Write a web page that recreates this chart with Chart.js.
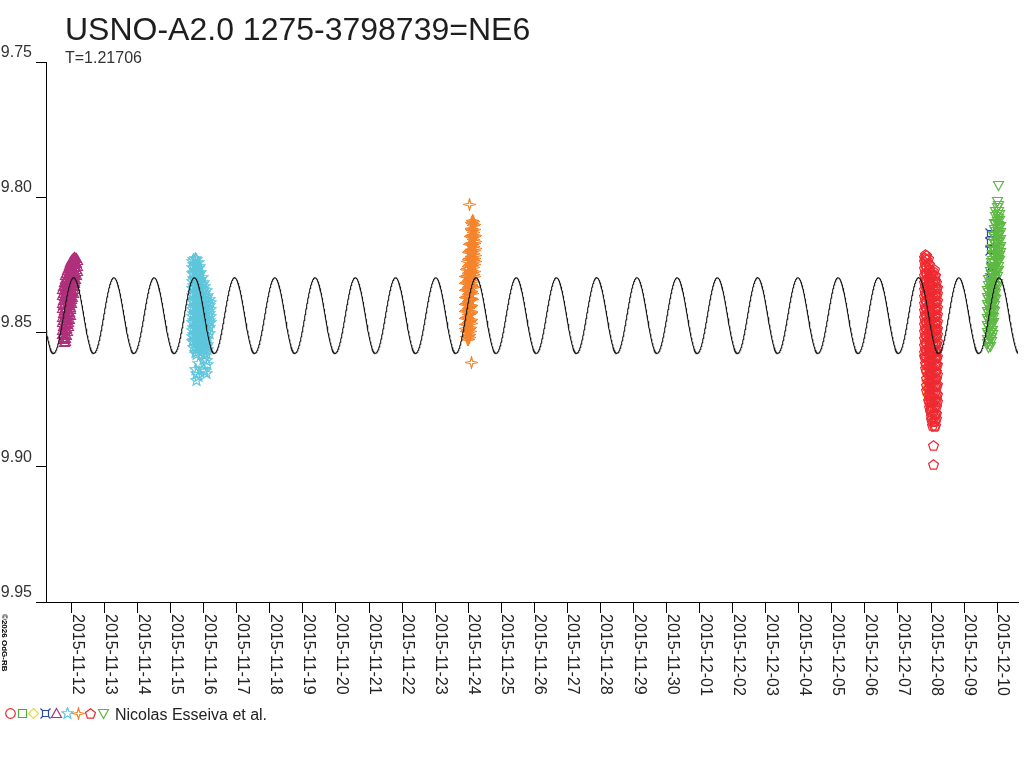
<!DOCTYPE html>
<html>
<head>
<meta charset="utf-8">
<title>USNO-A2.0 1275-3798739=NE6</title>
<script src="https://cdn.jsdelivr.net/npm/chart.js@4.4.1/dist/chart.umd.min.js"></script>
<style>
  html, body { margin: 0; padding: 0; background: #fff; }
  canvas { display: block; }
</style>
</head>
<body>
<canvas id="lc" width="1024" height="768"></canvas>
<script>
"use strict";

// x = days since 2015-11-12 00:00, y = magnitude
const dateLabels = [
  "2015-11-12", "2015-11-13", "2015-11-14", "2015-11-15", "2015-11-16",
  "2015-11-17", "2015-11-18", "2015-11-19", "2015-11-20", "2015-11-21",
  "2015-11-22", "2015-11-23", "2015-11-24", "2015-11-25", "2015-11-26",
  "2015-11-27", "2015-11-28", "2015-11-29", "2015-11-30", "2015-12-01",
  "2015-12-02", "2015-12-03", "2015-12-04", "2015-12-05", "2015-12-06",
  "2015-12-07", "2015-12-08", "2015-12-09", "2015-12-10"
];
const magTicks = [9.75, 9.80, 9.85, 9.90, 9.95];

// light curve model (T in days)
const period = 1.21706;
const epochMax = 0.065;
const meanMag = 9.8439;
const amplitude = 0.0140;

// observations, grouped as [day, [mags...]]
const magentaObs = [
  [-0.27, [9.8344, 9.8366, 9.8395, 9.8414, 9.8446, 9.8463, 9.8494, 9.8509]],
  [-0.245, [9.8331, 9.8357, 9.8384, 9.8402, 9.8433, 9.8458, 9.8479, 9.8506, 9.8527]],
  [-0.22, [9.8316, 9.8347, 9.8368, 9.8397, 9.8419, 9.8447, 9.8471, 9.8493, 9.8522, 9.8538]],
  [-0.195, [9.8304, 9.8329, 9.8358, 9.8381, 9.8409, 9.8436, 9.8457, 9.8488, 9.8511, 9.8536]],
  [-0.17, [9.8292, 9.8318, 9.8339, 9.8367, 9.8396, 9.8414, 9.8446, 9.8469, 9.8492, 9.8524]],
  [-0.145, [9.8285, 9.8306, 9.8334, 9.8361, 9.8383, 9.8411, 9.8437, 9.8458, 9.8487, 9.8513]],
  [-0.12, [9.8273, 9.8299, 9.8322, 9.8348, 9.8371, 9.8398, 9.8424, 9.8449, 9.8472, 9.8497]],
  [-0.095, [9.8266, 9.8288, 9.8313, 9.8341, 9.8364, 9.8389, 9.8417, 9.8436, 9.8466, 9.8481]],
  [-0.07, [9.8254, 9.8278, 9.8304, 9.8327, 9.8356, 9.8376, 9.8403, 9.8429, 9.8452]],
  [-0.045, [9.8247, 9.8271, 9.8296, 9.8318, 9.8346, 9.8368, 9.8394, 9.8417, 9.8438]],
  [-0.02, [9.8241, 9.8262, 9.8288, 9.8313, 9.8337, 9.8363, 9.8386, 9.8409]],
  [0.005, [9.8236, 9.8256, 9.8281, 9.8304, 9.8331, 9.8352, 9.8379, 9.8396]],
  [0.03, [9.8232, 9.8251, 9.8276, 9.8302, 9.8327, 9.8349, 9.8371]],
  [0.055, [9.8229, 9.8243, 9.8268, 9.8294, 9.8316, 9.8341, 9.8357]],
  [0.08, [9.8226, 9.8237, 9.8261, 9.8288, 9.8312, 9.8333]],
  [0.105, [9.8224, 9.8239, 9.8256, 9.8281, 9.8304, 9.8321]],
  [0.13, [9.8226, 9.8242, 9.8258, 9.8284, 9.8305]],
  [0.155, [9.8229, 9.8248, 9.8268, 9.8291]],
  [0.18, [9.8234, 9.8256, 9.8277]]
];
const cyanObs = [
  [3.66, [9.8238, 9.8262, 9.8285, 9.8313, 9.8338, 9.8366, 9.8387, 9.8416, 9.8442, 9.8464, 9.8493, 9.8517, 9.8534]],
  [3.70, [9.8231, 9.8251, 9.8279, 9.8303, 9.8329, 9.8356, 9.8381, 9.8404, 9.8433, 9.8457, 9.8482, 9.8511, 9.8533, 9.8556]],
  [3.74, [9.8228, 9.8248, 9.8274, 9.8301, 9.8324, 9.8352, 9.8377, 9.8403, 9.8428, 9.8451, 9.8479, 9.8506, 9.8528, 9.8553, 9.8576, 9.8639]],
  [3.78, [9.8232, 9.8257, 9.8282, 9.8306, 9.8334, 9.8358, 9.8386, 9.8411, 9.8434, 9.8462, 9.8487, 9.8513, 9.8538, 9.8564, 9.8584, 9.8652, 9.8678]],
  [3.83, [9.8243, 9.8264, 9.8292, 9.8318, 9.8343, 9.8367, 9.8396, 9.8419, 9.8446, 9.8471, 9.8497, 9.8522, 9.8549, 9.8572, 9.8615, 9.8664]],
  [3.87, [9.8259, 9.8283, 9.8309, 9.8336, 9.8359, 9.8387, 9.8411, 9.8438, 9.8463, 9.8489, 9.8514, 9.8541, 9.8562]],
  [3.91, [9.8281, 9.8306, 9.8331, 9.8357, 9.8382, 9.8408, 9.8433, 9.8459, 9.8486, 9.8509, 9.8537, 9.8556]],
  [3.95, [9.8299, 9.8324, 9.8349, 9.8376, 9.8401, 9.8426, 9.8452, 9.8478, 9.8504, 9.8529, 9.8551]],
  [3.99, [9.8316, 9.8342, 9.8367, 9.8393, 9.8419, 9.8446, 9.8471, 9.8496, 9.8522, 9.8548, 9.8568, 9.8603, 9.8638]],
  [4.03, [9.8331, 9.8358, 9.8384, 9.8409, 9.8434, 9.8461, 9.8487, 9.8512, 9.8538, 9.8564, 9.8588, 9.8646]],
  [4.08, [9.8348, 9.8372, 9.8398, 9.8426, 9.8451, 9.8476, 9.8503, 9.8528, 9.8553, 9.8578, 9.8606, 9.8655]],
  [4.12, [9.8364, 9.8389, 9.8414, 9.8441, 9.8467, 9.8492, 9.8518, 9.8546, 9.8566, 9.8619]],
  [4.16, [9.8378, 9.8403, 9.8431, 9.8456, 9.8482, 9.8505]],
  [4.20, [9.8391, 9.8418, 9.8443, 9.8466]]
];
const orangeObs = [
  [11.91, [9.8294, 9.8321, 9.8345, 9.8372, 9.8398, 9.8423, 9.8449, 9.8474, 9.8488]],
  [11.94, [9.8267, 9.8293, 9.8318, 9.8344, 9.8371, 9.8396, 9.8422, 9.8447, 9.8473, 9.8499, 9.8518]],
  [11.97, [9.8238, 9.8264, 9.8291, 9.8316, 9.8342, 9.8367, 9.8394, 9.8419, 9.8445, 9.8471, 9.8496, 9.8517, 9.8528]],
  [12.00, [9.8204, 9.8231, 9.8257, 9.8283, 9.8308, 9.8334, 9.8361, 9.8386, 9.8412, 9.8437, 9.8463, 9.8489, 9.8514, 9.8526]],
  [12.03, [9.8177, 9.8203, 9.8228, 9.8254, 9.8281, 9.8306, 9.8332, 9.8357, 9.8383, 9.8409, 9.8434, 9.8461, 9.8486, 9.8511, 9.8522]],
  [12.06, [9.8148, 9.8173, 9.8199, 9.8226, 9.8251, 9.8277, 9.8302, 9.8328, 9.8354, 9.8379, 9.8406, 9.8431, 9.8457, 9.8482, 9.8498]],
  [12.09, [9.8118, 9.8144, 9.8171, 9.8196, 9.8222, 9.8247, 9.8273, 9.8299, 9.8324, 9.8351, 9.8376, 9.8402, 9.8428, 9.8453, 9.8468]],
  [12.11, [9.8096, 9.8119, 9.8144, 9.8171, 9.8196, 9.8222, 9.8248, 9.8273, 9.8299, 9.8326, 9.8351, 9.8377, 9.8402, 9.8424]],
  [12.14, [9.8086, 9.8099, 9.8124, 9.8151, 9.8177, 9.8202, 9.8228, 9.8254, 9.8279, 9.8306, 9.8331, 9.8356, 9.8381]],
  [12.17, [9.8089, 9.8107, 9.8133, 9.8159, 9.8184, 9.8211, 9.8236, 9.8262, 9.8288, 9.8313, 9.8336]],
  [12.20, [9.8101, 9.8122, 9.8148, 9.8174, 9.8199, 9.8226, 9.8251, 9.8277, 9.8296]],
  [12.22, [9.8141, 9.8164, 9.8189, 9.8216, 9.8238]],
  [12.04, [9.8026]],
  [12.10, [9.8612]]
];
const redObs = [
  [25.80, [9.8224, 9.8239, 9.8266, 9.8291, 9.8318, 9.8343, 9.8369, 9.8396, 9.8421, 9.8447, 9.8473, 9.8498, 9.8524, 9.8551, 9.8576, 9.8589]],
  [25.84, [9.8213, 9.8228, 9.8254, 9.8281, 9.8306, 9.8332, 9.8357, 9.8384, 9.8409, 9.8436, 9.8461, 9.8487, 9.8512, 9.8539, 9.8564, 9.8591, 9.8616, 9.8634]],
  [25.87, [9.8217, 9.8233, 9.8259, 9.8284, 9.8311, 9.8336, 9.8362, 9.8388, 9.8413, 9.8439, 9.8466, 9.8491, 9.8517, 9.8543, 9.8568, 9.8594, 9.8621, 9.8646, 9.8672, 9.8697, 9.8716]],
  [25.91, [9.8228, 9.8246, 9.8271, 9.8297, 9.8322, 9.8348, 9.8374, 9.8401, 9.8426, 9.8452, 9.8477, 9.8503, 9.8529, 9.8556, 9.8581, 9.8607, 9.8632, 9.8658, 9.8684, 9.8711, 9.8736, 9.8752]],
  [25.94, [9.8251, 9.8268, 9.8294, 9.8321, 9.8346, 9.8372, 9.8397, 9.8423, 9.8449, 9.8476, 9.8501, 9.8527, 9.8552, 9.8578, 9.8604, 9.8631, 9.8656, 9.8682, 9.8707, 9.8733, 9.8759, 9.8778]],
  [25.98, [9.8286, 9.8307, 9.8332, 9.8358, 9.8384, 9.8411, 9.8436, 9.8462, 9.8487, 9.8513, 9.8539, 9.8566, 9.8591, 9.8617, 9.8642, 9.8668, 9.8694, 9.8721, 9.8746, 9.8772, 9.8795]],
  [26.02, [9.8279, 9.8298, 9.8323, 9.8349, 9.8376, 9.8401, 9.8427, 9.8452, 9.8478, 9.8504, 9.8531, 9.8556, 9.8582, 9.8607, 9.8633, 9.8659, 9.8686, 9.8711, 9.8737, 9.8762, 9.8788, 9.8814, 9.8824]],
  [26.05, [9.8272, 9.8291, 9.8317, 9.8342, 9.8368, 9.8393, 9.8419, 9.8446, 9.8471, 9.8497, 9.8522, 9.8548, 9.8574, 9.8601, 9.8626, 9.8652, 9.8677, 9.8703, 9.8729, 9.8756, 9.8781, 9.8807, 9.8832, 9.8845]],
  [26.09, [9.8268, 9.8289, 9.8314, 9.8341, 9.8366, 9.8392, 9.8417, 9.8443, 9.8469, 9.8496, 9.8521, 9.8547, 9.8572, 9.8598, 9.8624, 9.8651, 9.8676, 9.8702, 9.8727, 9.8753, 9.8779, 9.8806, 9.8831, 9.8851]],
  [26.12, [9.8289, 9.8309, 9.8336, 9.8361, 9.8387, 9.8412, 9.8438, 9.8464, 9.8491, 9.8516, 9.8542, 9.8567, 9.8593, 9.8619, 9.8646, 9.8671, 9.8697, 9.8722, 9.8748, 9.8774, 9.8801, 9.8826, 9.8846]],
  [26.16, [9.8318, 9.8338, 9.8363, 9.8389, 9.8416, 9.8441, 9.8467, 9.8492, 9.8518, 9.8544, 9.8571, 9.8596, 9.8622, 9.8647, 9.8673, 9.8699, 9.8726, 9.8751, 9.8777, 9.8803, 9.8821]],
  [26.20, [9.8336, 9.8357, 9.8384, 9.8409, 9.8434, 9.8461, 9.8486, 9.8511, 9.8537, 9.8563, 9.8589, 9.8622, 9.8658, 9.8694, 9.8731, 9.8758]],
  [26.08, [9.8919, 9.8989]]
];
const yellowObs = [
  [25.86, [9.8648, 9.8679]],
  [25.90, [9.8703, 9.8731]]
];
const greenObs = [
  [27.72, [9.8346, 9.8372, 9.8398, 9.8423, 9.8449, 9.8476, 9.8501, 9.8527, 9.8541]],
  [27.75, [9.8306, 9.8328, 9.8354, 9.8381, 9.8406, 9.8432, 9.8457, 9.8483, 9.8509, 9.8536, 9.8556]],
  [27.79, [9.8276, 9.8297, 9.8322, 9.8348, 9.8374, 9.8401, 9.8426, 9.8452, 9.8477, 9.8503, 9.8529, 9.8553]],
  [27.82, [9.8241, 9.8261, 9.8287, 9.8314, 9.8339, 9.8365, 9.8391, 9.8416, 9.8442, 9.8467, 9.8494, 9.8519, 9.8536]],
  [27.86, [9.8191, 9.8212, 9.8237, 9.8263, 9.8289, 9.8316, 9.8341, 9.8367, 9.8392, 9.8418, 9.8444, 9.8471, 9.8496, 9.8509]],
  [27.89, [9.8143, 9.8164, 9.8189, 9.8216, 9.8241, 9.8267, 9.8292, 9.8318, 9.8344, 9.8371, 9.8396, 9.8422, 9.8447, 9.8464]],
  [27.93, [9.8098, 9.8119, 9.8146, 9.8171, 9.8197, 9.8222, 9.8248, 9.8274, 9.8301, 9.8326, 9.8352, 9.8377, 9.8403, 9.8424]],
  [27.96, [9.8053, 9.8074, 9.8101, 9.8126, 9.8152, 9.8177, 9.8203, 9.8229, 9.8256, 9.8281, 9.8307, 9.8332, 9.8358, 9.8379]],
  [28.00, [9.8017, 9.8038, 9.8063, 9.8089, 9.8116, 9.8141, 9.8167, 9.8192, 9.8218, 9.8244, 9.8271, 9.8296, 9.8322, 9.8333]],
  [28.03, [9.8031, 9.8053, 9.8078, 9.8104, 9.8131, 9.8156, 9.8182, 9.8207, 9.8233, 9.8259, 9.8273]],
  [28.07, [9.8066, 9.8087, 9.8113, 9.8139, 9.8164, 9.8191, 9.8216, 9.8237]],
  [28.10, [9.8111, 9.8132, 9.8158, 9.8184, 9.8206]],
  [28.03, [9.7958]]
];
const blueObs = [
  [27.81, [9.8135, 9.8168, 9.8199]],
  [27.83, [9.8256, 9.8301, 9.8352]]
];

const xMin = -0.772;
const xMax = 28.63;
const FONT = "'Liberation Sans', Arial, sans-serif";

function toPoints(groups) {
  const pts = [];
  groups.forEach(function (g) {
    g[1].forEach(function (m) { pts.push({ x: g[0], y: m }); });
  });
  return pts;
}

function polyPath(g, cx, cy, n, rOut, rIn, start) {
  const k = rIn ? n * 2 : n;
  for (let i = 0; i < k; i++) {
    const r = rIn && i % 2 ? rIn : rOut;
    const a = start + i * Math.PI * 2 / k;
    const px = cx + r * Math.cos(a), py = cy + r * Math.sin(a);
    if (i === 0) g.moveTo(px, py); else g.lineTo(px, py);
  }
  g.closePath();
}

function marker(shape, color) {
  const c = document.createElement("canvas");
  c.width = 13;
  c.height = 13;
  const g = c.getContext("2d");
  g.strokeStyle = color;
  g.lineWidth = 1.2;
  g.beginPath();
  const cx = 6.5, cy = 6.5;
  if (shape === "circle") {
    g.arc(cx, cy, 4.8, 0, Math.PI * 2);
  } else if (shape === "square") {
    g.rect(2.5, 2.5, 8, 8);
  } else if (shape === "diamond") {
    g.moveTo(cx, 1.5); g.lineTo(11.5, cy); g.lineTo(cx, 11.5); g.lineTo(1.5, cy); g.closePath();
  } else if (shape === "xsquare") {
    g.rect(3.5, 3.5, 6, 6);
    g.moveTo(1.5, 1.5); g.lineTo(3.5, 3.5);
    g.moveTo(11.5, 1.5); g.lineTo(9.5, 3.5);
    g.moveTo(1.5, 11.5); g.lineTo(3.5, 9.5);
    g.moveTo(11.5, 11.5); g.lineTo(9.5, 9.5);
  } else if (shape === "triangle") {
    g.moveTo(cx, 1.5); g.lineTo(11.5, 10.5); g.lineTo(1.5, 10.5); g.closePath();
  } else if (shape === "star5") {
    polyPath(g, cx, cy, 5, 5.8, 2.5, -Math.PI / 2);
  } else if (shape === "star4") {
    polyPath(g, cx, cy, 4, 5.8, 1.7, -Math.PI / 2);
  } else if (shape === "pentagon") {
    polyPath(g, cx, cy + 0.5, 5, 5.2, 0, -Math.PI / 2);
  } else if (shape === "invtriangle") {
    g.moveTo(1.5, 2.5); g.lineTo(11.5, 2.5); g.lineTo(cx, 11.5); g.closePath();
  }
  g.stroke();
  return c;
}

const mk = {
  circle: marker("circle", "#ee2a30"),
  square: marker("square", "#4cb040"),
  diamond: marker("diamond", "#f0dc20"),
  xsquare: marker("xsquare", "#2848b0"),
  triangle: marker("triangle", "#b0307c"),
  star5: marker("star5", "#5ec6dc"),
  star4: marker("star4", "#f5842c"),
  pentagon: marker("pentagon", "#ee2a30"),
  invtriangle: marker("invtriangle", "#5eb844")
};

const modelPts = [];
for (let d = xMin; d <= xMax; d += 0.01) {
  modelPts.push({ x: d, y: meanMag - amplitude * Math.cos(2 * Math.PI * (d - epochMax) / period) });
}

function obsSet(groups, style, order) {
  return { data: toPoints(groups), pointStyle: style, pointRadius: 5, showLine: false, order: order };
}

const crispPlugin = {
  id: "crisp",
  beforeDatasetsDraw: function (chart) { chart.ctx.imageSmoothingEnabled = false; }
};

const decorPlugin = {
  id: "decor",
  afterDraw: function (chart) {
    const ctx = chart.ctx;
    const xs = chart.scales.x;
    ctx.save();
    ctx.imageSmoothingEnabled = false;
    ctx.fillStyle = "#1e1e1e";
    ctx.textAlign = "left";
    ctx.textBaseline = "alphabetic";
    ctx.font = "32px " + FONT;
    ctx.fillText("USNO-A2.0 1275-3798739=NE6", 65, 40);
    ctx.font = "16px " + FONT;
    ctx.fillStyle = "#333";
    ctx.fillText("T=1.21706", 65, 63);

    // date labels, rotated to read top-down
    ctx.font = "16px " + FONT;
    ctx.fillStyle = "#222";
    xs.ticks.forEach(function (t) {
      const lbl = dateLabels[Math.round(t.value)];
      if (!lbl) return;
      const px = xs.getPixelForValue(t.value);
      ctx.save();
      ctx.translate(px + 1, 614);
      ctx.rotate(Math.PI / 2);
      ctx.fillText(lbl, 0, 0);
      ctx.restore();
    });

    // copyright
    ctx.save();
    ctx.font = "bold 8px " + FONT;
    ctx.fillStyle = "#000";
    ctx.translate(2, 614);
    ctx.rotate(Math.PI / 2);
    ctx.fillText("\u00a92026 OdG-RB", 0, 0);
    ctx.restore();

    // symbol row + credit
    const order = ["circle", "square", "diamond", "xsquare", "triangle", "star5", "star4", "pentagon", "invtriangle"];
    const cxs = [10, 22, 33, 45, 56, 67, 78, 90, 103];
    order.forEach(function (k, i) {
      const img = mk[k];
      ctx.drawImage(img, Math.round(cxs[i] - img.width / 2), Math.round(713 - img.height / 2));
    });
    ctx.font = "16px " + FONT;
    ctx.fillStyle = "#222";
    ctx.fillText("Nicolas Esseiva et al.", 115, 720);
    ctx.restore();
  }
};

Chart.defaults.font.family = FONT;

new Chart(document.getElementById("lc"), {
  type: "scatter",
  data: {
    datasets: [
      { data: modelPts, showLine: true, pointRadius: 0, borderColor: "#1a1a1a", borderWidth: 1.1, order: 0 },
      obsSet(magentaObs, mk.triangle, 1),
      obsSet(cyanObs, mk.star5, 1),
      obsSet(orangeObs, mk.star4, 1),
      obsSet(redObs, mk.pentagon, 1),
      obsSet(yellowObs, mk.diamond, 2),
      obsSet(greenObs, mk.invtriangle, 1),
      obsSet(blueObs, mk.xsquare, 2)
    ]
  },
  options: {
    responsive: false,
    devicePixelRatio: 1,
    animation: false,
    events: [],
    layout: { padding: { top: 62, left: 0, right: 0, bottom: 0 } },
    plugins: { legend: { display: false }, tooltip: { enabled: false }, title: { display: false } },
    scales: {
      x: {
        type: "linear",
        min: xMin,
        max: xMax,
        afterFit: function (s) { s.height = 166; },
        border: { color: "#000", width: 1 },
        grid: { drawOnChartArea: false, drawTicks: true, tickLength: 11, color: "#000" },
        ticks: { display: false, stepSize: 1, includeBounds: false }
      },
      y: {
        type: "linear",
        reverse: true,
        min: magTicks[0],
        max: magTicks[magTicks.length - 1],
        afterFit: function (s) { s.width = 46; },
        border: { color: "#000", width: 1 },
        grid: { drawOnChartArea: false, drawTicks: true, tickLength: 10, color: "#000" },
        ticks: {
          stepSize: 0.05,
          padding: 4,
          labelOffset: -9,
          color: "#333",
          font: { size: 16 },
          callback: function (v) { return v.toFixed(2); }
        }
      }
    }
  },
  plugins: [crispPlugin, decorPlugin]
});
</script>
</body>
</html>
